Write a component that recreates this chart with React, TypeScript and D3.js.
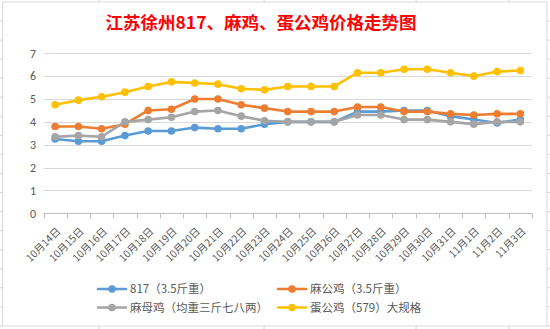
import React from "react";
import * as d3 from "d3";

const dates = [
  "10月14日", "10月15日", "10月16日", "10月17日", "10月18日", "10月19日", "10月20日",
  "10月21日", "10月22日", "10月23日", "10月24日", "10月25日", "10月26日", "10月27日",
  "10月28日", "10月29日", "10月30日", "10月31日", "11月1日", "11月2日", "11月3日",
];
const s817 = [3.25, 3.15, 3.15, 3.4, 3.6, 3.6, 3.75, 3.7, 3.7, 3.9, 4.0, 4.0, 4.0, 4.45, 4.45, 4.5, 4.5, 4.25, 4.1, 3.95, 4.1];
const maGong = [3.8, 3.8, 3.7, 3.9, 4.5, 4.55, 5.0, 5.0, 4.75, 4.6, 4.45, 4.45, 4.45, 4.65, 4.65, 4.45, 4.45, 4.35, 4.3, 4.35, 4.35];
const maMu = [3.35, 3.4, 3.35, 4.0, 4.1, 4.2, 4.45, 4.5, 4.25, 4.05, 4.0, 4.0, 4.0, 4.3, 4.3, 4.1, 4.1, 4.0, 3.9, 4.0, 4.0];
const danGong = [4.75, 4.95, 5.1, 5.3, 5.55, 5.75, 5.7, 5.65, 5.45, 5.4, 5.55, 5.55, 5.55, 6.15, 6.15, 6.3, 6.3, 6.15, 6.0, 6.2, 6.25];
const seriesNames = ["817（3.5斤重）", "麻公鸡（3.5斤重）", "麻母鸡（均重三斤七八两）", "蛋公鸡（579）大规格"];
const seriesColors = ["#5B9BD5", "#ED7D31", "#A5A5A5", "#FFC000"];
const yTicks = [0, 1, 2, 3, 4, 5, 6, 7];
const title = "江苏徐州817、麻鸡、蛋公鸡价格走势图";

const W = 550, H = 329;
const plotL = 43.5, plotR = 532, plotT = 53.3, plotB = 213.3;
const font = "Calibri, 'Noto Sans CJK SC', sans-serif";

export default function App() {
  const x = d3.scaleBand<string>().domain(dates).range([plotL, plotR]).padding(0);
  const y = d3.scaleLinear().domain([0, 7]).range([plotB, plotT]);
  const cx = (d: string) => (x(d) as number) + x.bandwidth() / 2;
  const allSeries = [s817, maGong, maMu, danGong];
  const line = d3.line<number>().x((_, i) => cx(dates[i])).y((v) => y(v));

  const rowLines = d3.range(1, 18).map((k) => 2 + k * 19.05);
  const colLines = [99, 264, 416, 509];

  const legendPos = [
    { x: 98, y: 289 },
    { x: 278, y: 289 },
    { x: 98, y: 307.5 },
    { x: 278, y: 307.5 },
  ];

  return (
    <svg width={W} height={H} style={{ position: "absolute", left: 0, top: 0, background: "#fff" }} fontFamily={font}>
      <rect x={0} y={0} width={W} height={H} fill="#fff" />
      {rowLines.map((ry, i) => (
        <g key={"r" + i}>
          <line x1={0} x2={2.5} y1={ry} y2={ry} stroke="#d4d4d4" />
          <line x1={547} x2={550} y1={ry} y2={ry} stroke="#d4d4d4" />
        </g>
      ))}
      {colLines.map((cxl, i) => (
        <g key={"c" + i}>
          <line x1={cxl} x2={cxl} y1={0} y2={2} stroke="#d4d4d4" />
          <line x1={cxl} x2={cxl} y1={326} y2={329} stroke="#d4d4d4" />
        </g>
      ))}
      <rect x={2.5} y={2} width={544.5} height={324} fill="#fff" stroke="#d9d9d9" strokeWidth={1} />

      <text x={261} y={29} textAnchor="middle" fill="#ff0000" fontSize={17.5} fontWeight="bold"
        fontFamily="'Noto Sans CJK SC', sans-serif">{title}</text>

      {yTicks.filter((t) => t > 0).map((t) => (
        <line key={"g" + t} x1={plotL} x2={plotR} y1={Math.round(y(t)) + 0.5} y2={Math.round(y(t)) + 0.5} stroke="#d9d9d9" strokeWidth={1} />
      ))}
      <line x1={plotL} x2={plotR} y1={Math.round(y(0)) + 0.5} y2={Math.round(y(0)) + 0.5} stroke="#bfbfbf" strokeWidth={1} />
      {dates.map((d, i) => (
        <line key={"t" + i} x1={Math.round(x(d) as number) + 0.5} x2={Math.round(x(d) as number) + 0.5} y1={y(0)} y2={y(0) + 5} stroke="#bfbfbf" />
      ))}
      <line x1={Math.round(plotR) + 0.5} x2={Math.round(plotR) + 0.5} y1={y(0)} y2={y(0) + 5} stroke="#bfbfbf" />

      {yTicks.map((t) => (
        <text key={"yl" + t} x={36} y={y(t)} dy="0.35em" textAnchor="end" fontSize={12} fill="#595959">{t}</text>
      ))}

      {dates.map((d, i) => (
        <text key={"xl" + i} transform={`translate(${cx(d) + 3.5},${y(0) + 16}) rotate(-45)`} textAnchor="end" dy="0.35em"
          fontSize={10.3} fill="#595959" fontFamily="'Noto Sans CJK SC', sans-serif">{d}</text>
      ))}

      {allSeries.map((s, si) => (
        <g key={"s" + si}>
          <path d={line(s) as string} fill="none" stroke={seriesColors[si]} strokeWidth={2.6} strokeLinejoin="round" strokeLinecap="round" />
          {s.map((v, i) => (
            <circle key={i} cx={cx(dates[i])} cy={y(v)} r={3.8} fill={seriesColors[si]} />
          ))}
        </g>
      ))}

      {seriesNames.map((n, i) => (
        <g key={"lg" + i}>
          <line x1={legendPos[i].x} x2={legendPos[i].x + 28} y1={legendPos[i].y} y2={legendPos[i].y} stroke={seriesColors[i]} strokeWidth={2.6} strokeLinecap="round" />
          <circle cx={legendPos[i].x + 14} cy={legendPos[i].y} r={3.8} fill={seriesColors[i]} />
          <text x={legendPos[i].x + 32} y={legendPos[i].y} dy="0.35em" fontSize={11.5} fill="#595959"
            fontFamily="'Noto Sans CJK SC', sans-serif">{n}</text>
        </g>
      ))}
    </svg>
  );
}
